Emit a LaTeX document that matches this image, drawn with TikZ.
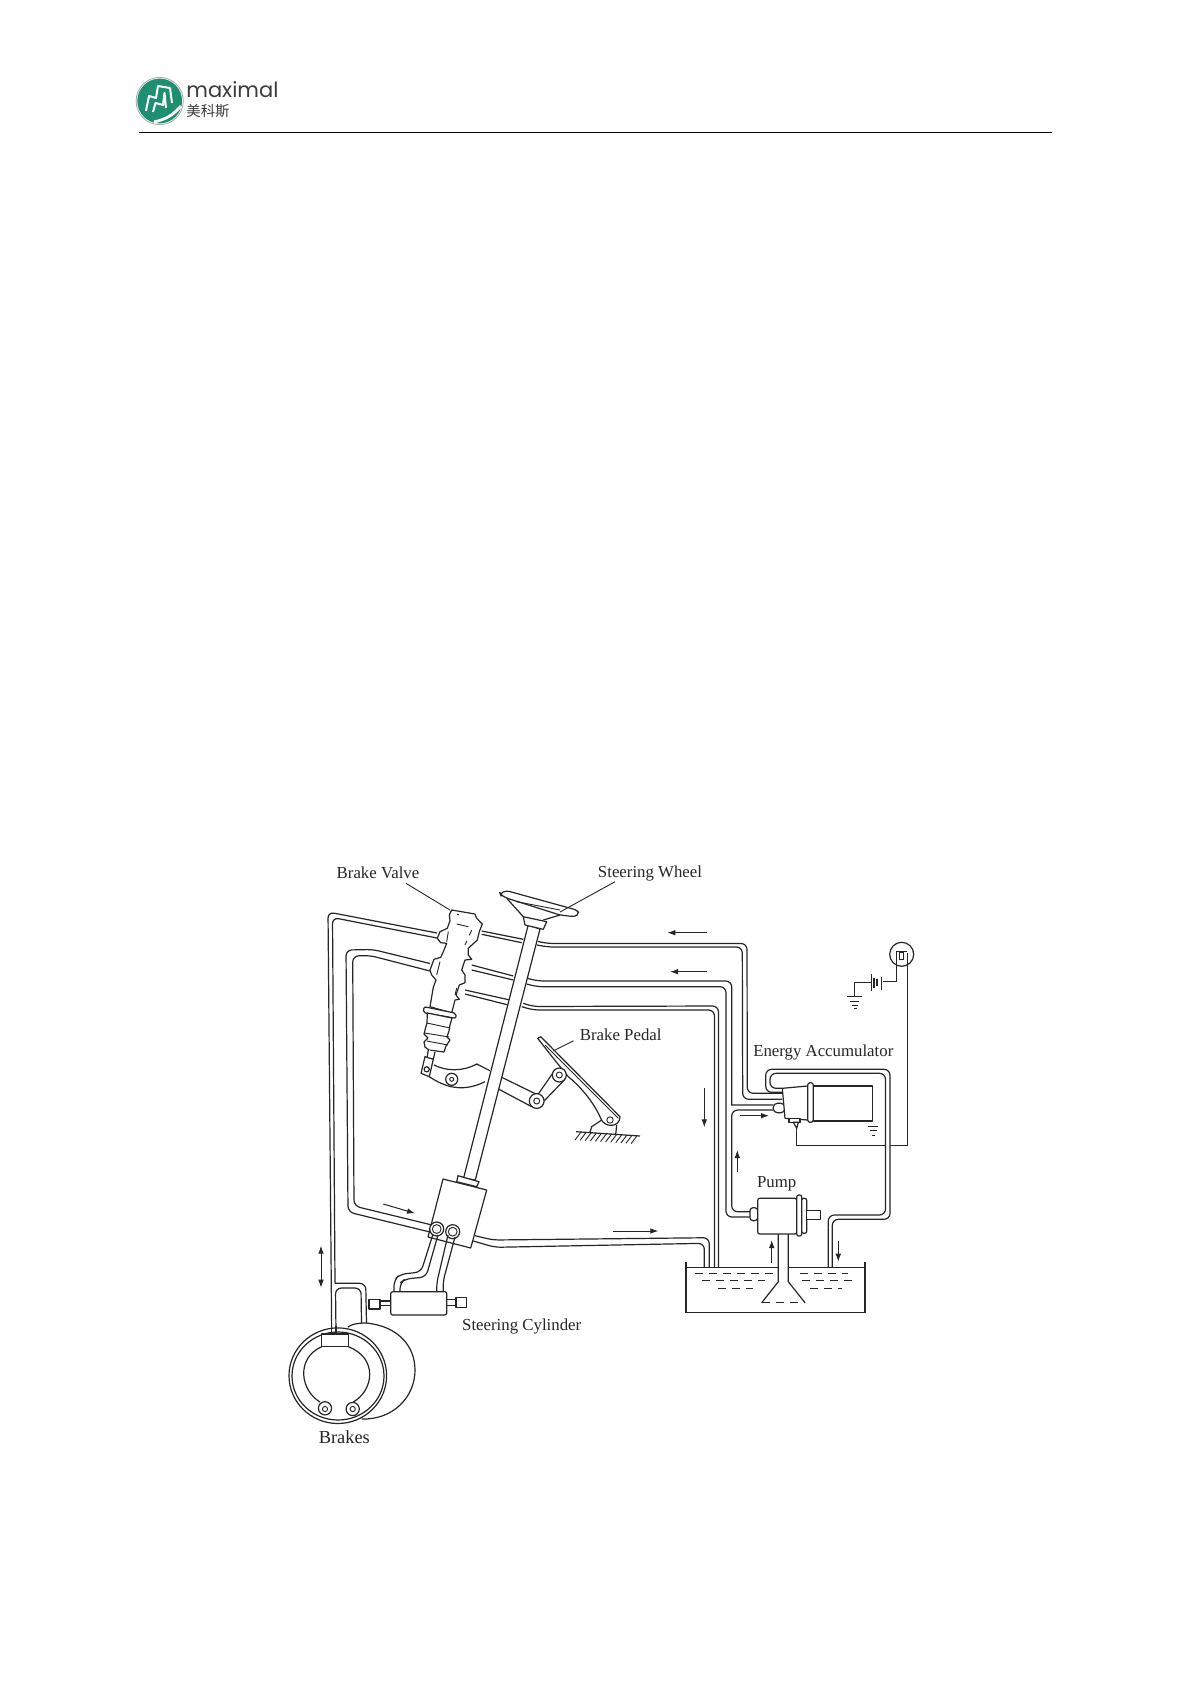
\documentclass[tikz,border=0pt]{standalone}
\usepackage{fontspec}
\setmainfont{Liberation Serif}
\newfontfamily\logofont{Poppins}
\newfontfamily\cjk{Noto Sans CJK SC}
\usepackage{xcolor}
\usetikzlibrary{arrows.meta,positioning}
\definecolor{logoteal}{HTML}{1F8F72}
\definecolor{logotext}{HTML}{3C3C3C}

\begin{document}
\begin{tikzpicture}[
    x=0.5pt, y=-0.5pt,
    draw=black!85,
    pipe/.style={line width=0.6pt, rounded corners=3pt},
    part/.style={line width=0.6pt, fill=white, line join=round},
    lead/.style={line width=0.45pt},
    arr/.style={-{Latex[length=4pt,width=2.8pt]}, line width=0.5pt},
    lbl/.style={inner sep=0pt, font=\fontsize{8.4}{10}\selectfont, text=black!85},
    liquid/.style={line width=0.5pt, dash pattern=on 4pt off 3pt}
]
\useasboundingbox (0,0) rectangle (1190,1684);
\fill[white] (0,0) rectangle (1190,1684);

% header
\fill[logoteal] (159.7,101) circle[radius=11.2pt];
\draw[black!35, line width=0.4pt] (159.7,101) circle[radius=11.8pt];
\draw[white, line width=1pt, line join=round] (146,111) -- (149,96) -- (156,98) -- (158,86) -- (170,88) -- (172,103);
\draw[white, line width=1pt, line join=round] (153,112) -- (155.5,103) -- (163,105) -- (164.5,93) -- (166,108);
\draw[white, line width=1.4pt] (154,122) to[bend right=18] (181,106);
\node[inner sep=0pt, anchor=base west, font=\logofont\fontsize{10.5}{12}\selectfont, text=logotext] (logoname) at (186,98) {maximal};
\node[inner sep=0pt, anchor=west, font=\cjk\fontsize{7.2}{8}\selectfont, text=logotext] (logocn) at (186,111) {美科斯};
\draw[black, line width=0.5pt] (139,132.7) -- (1052,132.7);

% pipes
\draw[pipe] (331.7,1333) -- (328,912) -- (437,933);
\draw[pipe] (335,1283.3) -- (332.5,917.5) -- (437,938);
\draw[pipe] (336,1333) -- (335.5,1288) -- (361,1288) -- (361.5,1323);
\draw[pipe] (335,1283.3) -- (365.7,1283.3) -- (366.5,1323);
\draw[pipe] (481.7,931) -- (523.3,939.3);
\draw[pipe] (481.7,934.3) -- (521.7,942.7);
\draw[pipe] (538,941.5) -- (548,943.5) -- (747,943.5) -- (747.3,1093.3) -- (782,1093.3);
\draw[pipe] (537,945) -- (548,947) -- (742.3,947) -- (742.7,1099.3) -- (782,1099.3);
\draw[pipe] (430,963.5) -- (373,949.5) -- (346,950) -- (348,1212) -- (430,1232);
\draw[pipe] (430,971) -- (370,955.5) -- (352.7,956) -- (354,1206) -- (432,1225);
\draw[pipe] (471.7,965) -- (513.3,976);
\draw[pipe] (471.7,970) -- (513.3,980);
\draw[pipe] (528,978.5) -- (538,981) -- (731.7,981) [sharp corners] -- (731.7,1105) -- (773.3,1105);
\draw[pipe] (526.7,984) -- (537,986.7) -- (726,986.7) -- (726,1217) -- (750,1217);
\draw[pipe] (773.3,1110) -- (731.7,1110) [rounded corners=3pt] -- (731.7,1211.7) -- (750,1211.7);
\draw[pipe] (465,990) -- (510,1000);
\draw[pipe] (465,994) -- (508.3,1005);
\draw[pipe] (523.3,1003.3) -- (533.3,1006.5) -- (718.5,1006) -- (718.5,1267);
\draw[pipe] (521.7,1006.7) -- (533.3,1010) -- (714.5,1010) -- (714.5,1267);
\draw[pipe] (475,1235.7) -- (493.3,1240) -- (709.3,1237.7) -- (709.3,1267);
\draw[pipe] (473.3,1241) -- (495,1247.3) -- (704.3,1243.3) -- (704.3,1267);
\draw[pipe] (782.3,1092.3) -- (765.7,1092.3) -- (765.7,1069.3) -- (890,1069.3) -- (890,1219.3) -- (832.3,1219.3) -- (832.3,1267);
\draw[pipe] (782.3,1088.3) -- (770,1088.3) -- (770,1073.3) -- (885.5,1073.3) -- (885.5,1215) -- (828.3,1215) -- (828.3,1267);

% brake valve
\draw[part] (451.7,910) -- (449.3,915) -- (450,920.7) -- (447.3,928.3) -- (440,931.7) -- (437.3,938.3) -- (440.7,942.7) -- (446.7,943.3) -- (443.3,951.7) -- (440.7,957.3) -- (434,959.3) -- (430,970) -- (431.7,975) -- (436,980) -- (433.3,987.3) -- (430,1006.7) -- (451.7,1013) -- (455,1000) -- (459.3,999.3) -- (456,995) -- (459.3,985) -- (465,982.7) -- (465,975) -- (461.7,970) -- (465,960) -- (471.7,959.3) -- (468.3,955) -- (468.3,948.3) -- (477.3,940) -- (479.3,931.7) -- (482.3,924) -- (476.7,918.3) -- (475,914) -- cycle;
\draw[lead] (448.3,931.7) -- (446.7,941.7);
\draw[lead] (456.7,924) -- (468.3,926.7);
\draw[lead, dashed] (471.7,930) -- (465,945);
\draw[lead] (440,961.7) -- (436.7,975);
\draw[lead] (456.7,988) -- (455,995);
\draw[lead] (457,914) -- (459,915);
\draw[part, rounded corners=1pt] (424,1006.7) -- (456,1013.3) -- (456,1018.3) -- (423.3,1012.7) -- cycle;
\draw[part] (427.3,1013) -- (427,1023) -- (425,1030) -- (424,1034) -- (428,1038) -- (424,1042) -- (425,1047) -- (429,1050) -- (444,1052) -- (446,1046) -- (450,1040) -- (447,1037) -- (449,1031) -- (450,1025) -- (452,1018) -- cycle;
\draw[lead] (427,1023) -- (450,1028);
\draw[lead] (425,1033) -- (449,1037);
\draw[lead] (427,1041) -- (448,1045);

% pedal linkage
\draw[part] (428.3,1050) -- (427,1058) -- (433.3,1059.3) -- (435,1052);
\draw[part] (425,1056.7) -- (433.3,1059.3) -- (429.3,1076.7) -- (421,1073.3) -- cycle;
\draw[part] (426.7,1069.3) circle[radius=1.3pt];
\draw[pipe, rounded corners=0pt] (434,1065) .. controls (446,1071) and (462,1072) .. (476.7,1064) -- (490,1070.7);
\draw[pipe, rounded corners=0pt] (429.3,1076.7) .. controls (442,1085) and (460,1094) .. (485,1081.7);
\draw[part] (451.7,1079.3) circle[radius=3pt];
\draw[lead] (451.7,1079.3) circle[radius=1pt];
\draw[pipe] (501.7,1077.3) -- (540,1096);
\draw[pipe] (499,1089.3) -- (531.7,1106.7);
\draw[pipe] (538.3,1094) -- (555,1070);
\draw[pipe] (544,1101) -- (565,1079.3);
\draw[part] (536.7,1101) circle[radius=3.7pt];
\draw[lead] (536.7,1101) circle[radius=1.5pt];
\draw[part] (537.7,1038.3) -- (540.7,1036.7) -- (620,1116.7) .. controls (620,1128) and (604,1128) .. (600.7,1118.3) .. controls (592,1098) and (575,1082) .. (568.3,1076.7) -- (553.3,1058.3) -- cycle;
\draw[lead] (545,1045) -- (618.3,1118.3);
\draw[part] (559.3,1075) circle[radius=3.5pt];
\draw[lead] (559.3,1075) circle[radius=1.5pt];
\draw[lead] (610,1120) circle[radius=1.6pt];
\draw[pipe, rounded corners=0pt] (601.7,1120) -- (591.7,1126.7) -- (590,1132);
\draw[pipe] (616.7,1125) -- (615.7,1134.3);
\draw[pipe] (576,1131.7) -- (640,1136);
\foreach \i in {0,...,11}
  \draw[lead] (581+\i*5.1,1132+\i*0.33) -- ++(-6,8);

% steering wheel
\draw[part, rounded corners=1.5pt] (500,893.3) -- (506.7,890.7) -- (576.7,910) -- (579.3,913.3) -- (575,916.7) -- (560,915) -- (507.3,898.3) -- (500.7,895) -- cycle;
\draw[pipe] (506.7,898.3) -- (523.3,916.7);
\draw[pipe] (560,915) -- (543.3,920);
\draw[lead] (516.7,901.7) -- (560,910);
\draw[part] (528.2,925) -- (463.6,1178) -- (475.3,1180) -- (540,929) -- cycle;
\draw[part] (523.3,916.7) -- (546.7,921.7) -- (543.3,929.3) -- (525,925) -- cycle;

% steering gear
\draw[part] (443,1179) -- (486.7,1190) -- (470.7,1248) -- (428,1237) -- cycle;
\draw[part] (458,1175.7) -- (479,1181.7) -- (476.7,1186.7) -- (456.7,1181.7) -- cycle;
\draw[part] (436.7,1229) circle[radius=3.5pt];
\draw[part] (452.7,1231.7) circle[radius=3.5pt];
\draw[lead] (436.7,1229) circle[radius=2.2pt];
\draw[lead] (452.7,1231.7) circle[radius=2.2pt];
\draw[pipe] (432.7,1235) -- (421,1272) -- (400,1274.3) -- (394,1280) -- (394,1291);
\draw[pipe] (438,1235) -- (426,1277) -- (405,1279) -- (400,1283) -- (400,1291);
\draw[pipe] (448,1235) -- (436.7,1283) -- (436.7,1291);
\draw[pipe] (455,1237) -- (443,1281.7) -- (443.3,1291);

% steering cylinder
\draw[part] (380,1301) rectangle (390.7,1305.7);
\draw[part] (369,1299.3) rectangle (380,1309);
\draw[part] (446.7,1299.3) rectangle (456,1305.7);
\draw[part] (456,1297.3) rectangle (466.7,1307.3);
\draw[part, rounded corners=1pt] (390.7,1291.7) rectangle (446.7,1315);

% brakes
\draw[line width=0.6pt] (348,1327) .. controls (352,1324) and (358,1323) .. (366,1323) .. controls (398,1326) and (415,1346) .. (415,1370) .. controls (415,1398) and (392,1420) .. (361.7,1419);
\draw[part] (337.8,1375.7) ellipse[x radius=24.4pt, y radius=23.9pt];
\draw[part] (338,1376) ellipse[x radius=23pt, y radius=22pt];
\draw[part] (321.7,1334) rectangle (348.3,1346.7);
\draw[pipe, rounded corners=0pt] (321.7,1346.7) .. controls (296,1358) and (300,1390) .. (320,1402);
\draw[pipe, rounded corners=0pt] (348.3,1346.7) .. controls (378,1358) and (374,1390) .. (353.3,1402);
\draw[part] (325,1408.3) circle[radius=3.3pt];
\draw[part] (352.7,1409) circle[radius=3.3pt];
\draw[lead] (325,1409) circle[radius=1.3pt];
\draw[lead] (352.7,1409) circle[radius=1.3pt];
\draw[line width=0.6pt] (331.7,1326) -- (331.7,1335);
\draw[line width=0.6pt] (336,1326) -- (336,1335);

% reservoir
\draw[line width=0.6pt] (686,1261.7) -- (686,1312.7) -- (865,1312.7) -- (865,1261.7);
\draw[line width=0.6pt] (686,1267.7) -- (778.3,1267.7);
\draw[line width=0.6pt] (788.3,1267.7) -- (865,1267.7);
\draw[liquid] (695,1273.3) -- (773,1273.3);
\draw[liquid] (800,1273.3) -- (848,1273.3);
\draw[liquid] (701.7,1280.7) -- (765,1280.7);
\draw[liquid] (801.7,1280.7) -- (851.7,1280.7);
\draw[liquid] (718,1288) -- (753,1288);
\draw[liquid] (810,1288) -- (841.7,1288);
\draw[line width=0.6pt] (778.3,1234) -- (778.3,1281.7) -- (761.7,1302.7);
\draw[line width=0.6pt] (788.3,1234) -- (788.3,1281.7) -- (805,1302.7);
\draw[liquid] (761.7,1302.7) -- (805,1302.7);

% pump
\draw[part, rounded corners=1.5pt] (750,1207.7) rectangle (757.7,1220.7);
\draw[part, rounded corners=1pt] (757.7,1198.3) rectangle (796.7,1234);
\draw[part, rounded corners=1pt] (796.7,1195) rectangle (801.7,1236);
\draw[part, rounded corners=1pt] (801.7,1198.3) rectangle (806.7,1233.3);
\draw[part] (806.7,1210.7) rectangle (820.7,1219.3);

% accumulator
\draw[part, rounded corners=2pt] (773.3,1103.3) rectangle (785,1112.7);
\draw[part] (782.3,1088.3) -- (807.7,1086) -- (807.7,1120) -- (785,1118.3) -- cycle;
\draw[part] (813.3,1086) rectangle (872.3,1121);
\draw[part, rounded corners=1.2pt] (807.7,1082.7) rectangle (813.3,1122.3);
\draw[part] (789,1118.3) rectangle (800,1122.3);
\draw[part] (793.3,1122.3) -- (798.3,1122.3) -- (796.7,1128.3) -- cycle;
\draw[lead] (796.7,1128) -- (796.7,1145) -- (885.5,1145);
\draw[lead] (890,1145) -- (907.3,1145) -- (907.3,953);
\draw[lead] (867.7,1126.7) -- (878.3,1126.7);
\draw[lead] (870,1130.7) -- (876.7,1130.7);
\draw[lead] (872.3,1135) -- (875,1135);

% lamp and battery
\draw[line width=0.6pt] (901.7,954.3) circle[radius=6pt];
\draw[lead] (896.3,951.7) -- (896.3,981.7) -- (883.3,981.7);
\draw[lead] (896.3,951.7) -- (907.3,951.7);
\draw[lead] (899.3,952.3) rectangle (903.3,959.3);
\draw[pipe] (881.7,976.7) -- (881.7,990);
\draw[pipe] (877,979) -- (877,986);
\draw[pipe] (874,978) -- (874,988);
\draw[pipe] (871.7,973.5) -- (871.7,990.5);
\draw[lead] (871.7,982.3) -- (854,982.3) -- (854,996.7);
\draw[lead] (847.3,996.7) -- (861.7,996.7);
\draw[lead] (850,1001) -- (859,1001);
\draw[lead] (852,1005) -- (858,1005);
\draw[lead] (854,1008.5) -- (856.5,1008.5);

% flow arrows
\draw[arr] (706.7,932.7) -- (667.3,932.7);
\draw[arr] (706.7,971.7) -- (670,971.7);
\draw[arr] (704.3,1088.3) -- (704.3,1127.3);
\draw[arr] (737.3,1171.7) -- (737.3,1150);
\draw[arr] (740,1115.7) -- (769,1115.7);
\draw[arr] (771.7,1262.7) -- (771.7,1240);
\draw[arr] (838.3,1241) -- (838.3,1261.7);
\draw[arr] (383.3,1204) -- (415,1213.3);
\draw[arr] (613.3,1231) -- (658.3,1231);
\draw[{Latex[length=4pt,width=2.8pt]}-{Latex[length=4pt,width=2.8pt]}, line width=0.5pt] (321,1245.7) -- (321,1287.7);

% labels
\node[lbl] (lblvalve) at (378,873) {Brake Valve};
\node[lbl] (lblwheel) at (650,873.7) {Steering Wheel};
\node[lbl] (lblpedal) at (620.7,1034.5) {Brake Pedal};
\node[lbl] (lblaccu) at (823.3,1052.5) {Energy Accumulator};
\node[lbl] (lblpump) at (776.7,1184) {Pump};
\node[lbl] (lblcyl) at (521.7,1326.5) {Steering Cylinder};
\node[lbl, font=\fontsize{9.2}{11}\selectfont] (lblbrakes) at (344.3,1436.7) {Brakes};
\coordinate (tipvalve) at (450,910);
\coordinate (tipwheel) at (560,912);
\coordinate (tippedal) at (553,1051);
\draw[lead] ([xshift=14pt,yshift=-2pt]lblvalve.south) -- (tipvalve);
\draw[lead] ([xshift=-17.5pt]lblwheel.south) -- (tipwheel);
\draw[lead] ([xshift=-3pt]lblpedal.south west) -- (tippedal);
\end{tikzpicture}
\end{document}
